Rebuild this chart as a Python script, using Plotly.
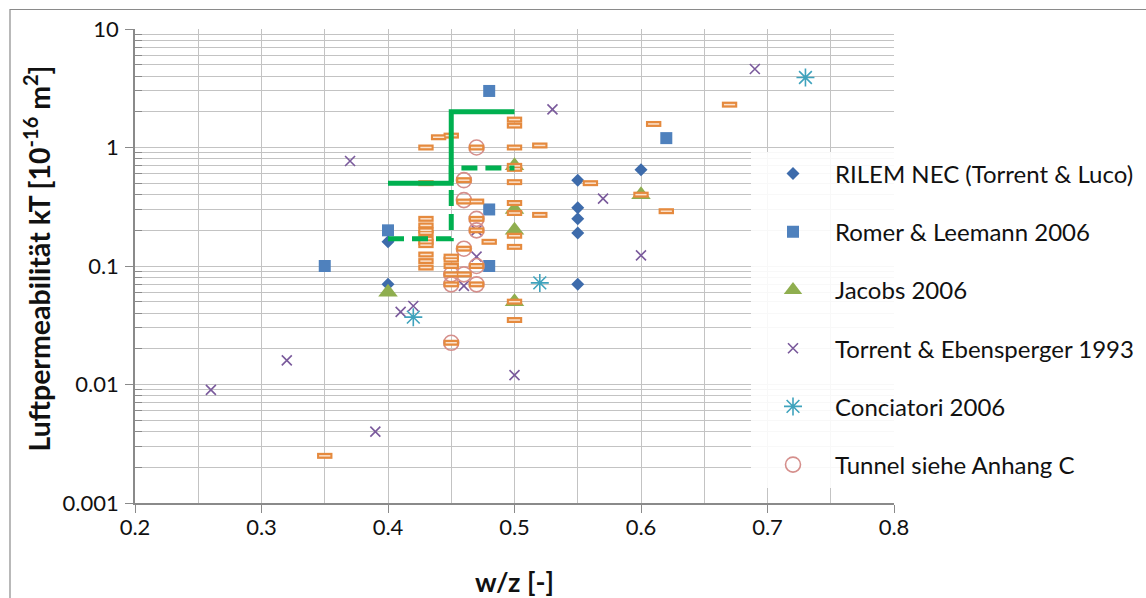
import plotly.graph_objects as go

# ---- data: w/z ratio vs. air permeability kT [1e-16 m2] ----
rilem_wz = [0.40, 0.40, 0.55, 0.55, 0.55, 0.55, 0.55, 0.60]
rilem_kt = [0.16, 0.07, 0.53, 0.31, 0.25, 0.19, 0.07, 0.65]

romer_wz = [0.35, 0.40, 0.48, 0.48, 0.48, 0.62]
romer_kt = [0.10, 0.20, 3.0, 0.30, 0.10, 1.2]

jacobs_wz = [0.40, 0.50, 0.50, 0.50, 0.50, 0.60]
jacobs_kt = [0.06, 0.70, 0.30, 0.20, 0.05, 0.40]

torrent_wz = [0.26, 0.32, 0.37, 0.39, 0.41, 0.42, 0.46, 0.47, 0.47, 0.50, 0.53, 0.57, 0.60, 0.69]
torrent_kt = [0.009, 0.016, 0.77, 0.004, 0.041, 0.046, 0.068, 0.20, 0.12, 0.012, 2.1, 0.37, 0.123, 4.6]

conciatori_wz = [0.42, 0.52, 0.73]
conciatori_kt = [0.037, 0.072, 3.9]

tunnel_wz = [0.45, 0.45, 0.45, 0.46, 0.46, 0.46, 0.46, 0.47, 0.47, 0.47, 0.47, 0.47]
tunnel_kt = [0.085, 0.07, 0.0225, 0.53, 0.36, 0.14, 0.085, 1.0, 0.25, 0.20, 0.10, 0.07]

# unlabelled single values (dash markers)
dash_wz = [0.35,
           0.43, 0.43, 0.43, 0.43, 0.43, 0.43, 0.43, 0.43, 0.43, 0.43, 0.43, 0.43,
           0.44,
           0.45, 0.45, 0.45, 0.45, 0.45, 0.45, 0.45,
           0.46, 0.46, 0.46, 0.46,
           0.47, 0.47, 0.47, 0.47, 0.47, 0.47,
           0.48,
           0.50, 0.50, 0.50, 0.50, 0.50, 0.50, 0.50, 0.50, 0.50, 0.50, 0.50, 0.50,
           0.52, 0.52, 0.56, 0.60, 0.61, 0.62, 0.67]
dash_kt = [0.0025,
           1.0, 0.50, 0.25, 0.22, 0.20, 0.19, 0.17, 0.16, 0.15, 0.125, 0.11, 0.097,
           1.22,
           1.26, 0.12, 0.113, 0.10, 0.085, 0.07, 0.0225,
           0.53, 0.35, 0.14, 0.085,
           1.0, 0.35, 0.25, 0.20, 0.10, 0.07,
           0.16,
           1.72, 1.53, 1.0, 0.70, 0.66, 0.51, 0.34, 0.28, 0.18, 0.145, 0.05, 0.035,
           1.04, 0.27, 0.50, 0.40, 1.58, 0.29, 2.3]

# limit-value step lines
limit_solid_wz = [0.40, 0.45, 0.45, 0.50]
limit_solid_kt = [0.50, 0.50, 2.0, 2.0]
limit_dash_wz = [0.40, 0.45, 0.45, 0.50]
limit_dash_kt = [0.17, 0.17, 0.67, 0.67]

x_ticks = [0.2, 0.3, 0.4, 0.5, 0.6, 0.7, 0.8]
x_ticktext = ["0.2", "0.3", "0.4", "0.5", "0.6", "0.7", "0.8"]
y_ticks = [0.001, 0.01, 0.1, 1, 10]
y_ticktext = ["0.001", "0.01", "0.1", "1", "10"]

FONT = "Lato"
GRID = "#c3c3c3"
AXIS = "#8a8a8a"
TXT = "#111111"

fig = go.Figure()

fig.add_trace(go.Scatter(
    x=rilem_wz, y=rilem_kt, mode="markers", name="RILEM NEC (Torrent & Luco)",
    legendgroup="a",
    marker=dict(symbol="diamond", size=10, color="#3d6bab")))
fig.add_trace(go.Scatter(
    x=romer_wz, y=romer_kt, mode="markers", name="Romer & Leemann 2006",
    legendgroup="b",
    marker=dict(symbol="square", size=12, color="#4f81bd")))
fig.add_trace(go.Scatter(
    x=jacobs_wz, y=jacobs_kt, mode="markers", name="Jacobs 2006",
    legendgroup="c",
    marker=dict(symbol="triangle-up", size=17, color="#8fae4f")))
fig.add_trace(go.Scatter(
    x=torrent_wz, y=torrent_kt, mode="markers", name="Torrent & Ebensperger 1993",
    legendgroup="d",
    marker=dict(symbol="x-thin-open", size=10, color="#7a5a9c", line=dict(width=1.6))))
fig.add_trace(go.Scatter(
    x=conciatori_wz, y=conciatori_kt, mode="markers", name="Conciatori 2006",
    legendgroup="e",
    marker=dict(symbol="asterisk-open", size=15, color="#3fa3bd", line=dict(width=1.6))))
fig.add_trace(go.Scatter(
    x=tunnel_wz, y=tunnel_kt, mode="markers", name="Tunnel siehe Anhang C",
    legendgroup="f",
    marker=dict(symbol="circle-open", size=15, color="#d58f8c", line=dict(width=1.6))))

# dash markers: orange bar with a light centre stroke
fig.add_trace(go.Scatter(
    x=dash_wz, y=dash_kt, mode="markers", showlegend=False, hoverinfo="skip",
    marker=dict(symbol="line-ew", size=11, color="#e58a3e", line=dict(width=6, color="#e58a3e"))))
fig.add_trace(go.Scatter(
    x=dash_wz, y=dash_kt, mode="markers", showlegend=False,
    marker=dict(symbol="line-ew", size=8, color="#fbe3cf", line=dict(width=1.5, color="#fbe3cf"))))

fig.add_trace(go.Scatter(
    x=limit_solid_wz, y=limit_solid_kt, mode="lines", showlegend=False,
    line=dict(color="#00b050", width=5)))
fig.add_trace(go.Scatter(
    x=limit_dash_wz, y=limit_dash_kt, mode="lines", showlegend=False,
    line=dict(color="#00b050", width=5, dash="16px,8px")))

minor_y = [m * 10.0 ** e for e in range(-3, 1) for m in range(2, 10)]

fig.update_xaxes(
    range=[0.2, 0.8], tickvals=x_ticks, ticktext=x_ticktext,
    showgrid=True, gridcolor=GRID, gridwidth=1.3,
    showline=True, linecolor=AXIS, linewidth=1.5,
    ticks="outside", ticklen=8, tickcolor=AXIS, tickwidth=1.3,
    ticklabelstandoff=-4, automargin=False,
    minor=dict(dtick=0.05, showgrid=True, gridcolor=GRID, gridwidth=1.3),
    tickfont=dict(family=FONT, size=22, color=TXT),
    zeroline=False, mirror=False,
    title=dict(text="<b>w/z [-]</b>", font=dict(family=FONT, size=27, color=TXT), standoff=34),
)
fig.update_yaxes(
    type="log", range=[-3, 1], tickvals=y_ticks, ticktext=y_ticktext,
    showgrid=True, gridcolor=GRID, gridwidth=1.3,
    showline=True, linecolor=AXIS, linewidth=1.5,
    ticks="outside", ticklen=8, tickcolor=AXIS, tickwidth=1.3,
    ticklabelstandoff=2, automargin=False,
    minor=dict(tickvals=minor_y, showgrid=True, gridcolor=GRID, gridwidth=1.3,
               ticks="inside", ticklen=7, tickcolor=AXIS, tickwidth=1.3),
    tickfont=dict(family=FONT, size=22, color=TXT),
    zeroline=False,
)

fig.add_annotation(
    text="<b>Luftpermeabilität kT [10<sup>-16</sup> m<sup>2</sup>]</b>",
    xref="paper", yref="paper", x=(37 - 135) / 759, y=(503.5 - 259) / 474,
    xanchor="center", yanchor="middle", textangle=-90, showarrow=False,
    font=dict(family=FONT, size=28.5, color=TXT),
)

# outer chart frame
fig.add_shape(type="rect", xref="paper", yref="paper",
              x0=(10 - 135) / 759, x1=(1170 - 135) / 759,
              y0=(503.5 - 620) / 474, y1=(503.5 - 10) / 474,
              line=dict(color="#8a8a8a", width=1.2), fillcolor="rgba(0,0,0,0)", layer="below")

fig.update_layout(
    width=1146, height=598,
    margin=dict(l=135, r=252, t=29, b=95, autoexpand=False),
    paper_bgcolor="white", plot_bgcolor="white",
    font=dict(family=FONT, color=TXT),
    showlegend=True,
    legend=dict(
        x=(751 - 135) / 759, y=(503.5 - 152) / 474, xanchor="left", yanchor="top",
        bgcolor="rgba(255,255,255,0.88)", borderwidth=0,
        font=dict(family=FONT, size=24, color=TXT),
        traceorder="grouped", tracegroupgap=24, itemwidth=74,
        itemclick=False,
    ),
)

fig.write_html("out.html")
